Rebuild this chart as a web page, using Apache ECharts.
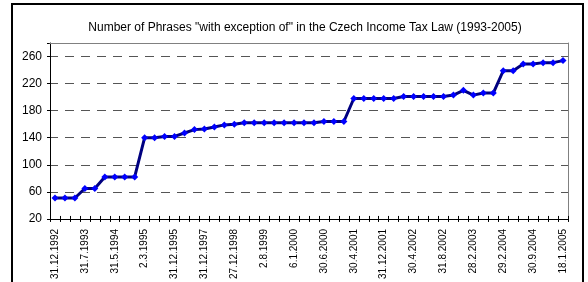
<!DOCTYPE html>
<html>
<head>
<meta charset="utf-8">
<script src="https://cdn.jsdelivr.net/npm/echarts@6/dist/echarts.min.js"></script>
<style>
    html, body { margin: 0; padding: 0; background: #fff; }
    #main { width: 588px; height: 282px; }
</style>
</head>
<body>
<div id="main"></div>
<script>
// dates shown on the axis (every 3rd point), the others are not readable
var shownDates = ['31.12.1992', '31.7.1993', '31.5.1994', '2.3.1995', '31.12.1995', '31.12.1997',
    '27.12.1998', '2.8.1999', '6.1.2000', '30.6.2000', '30.4.2001', '31.12.2001',
    '30.4.2002', '31.8.2002', '28.2.2003', '29.2.2004', '30.9.2004', '18.1.2005'];
// number of phrases at each amendment
var phrases = [51, 51, 51, 65, 65, 82, 82, 82, 82, 140, 140, 142, 142, 147, 152, 153, 156, 159, 160,
    162, 162, 162, 162, 162, 162, 162, 162, 164, 164, 164, 198, 198, 198, 198, 198,
    201, 201, 201, 201, 201, 203, 210, 203, 206, 206, 239, 239, 249, 249, 251, 251, 254];
var yTicks = [20, 60, 100, 140, 180, 220, 260];

var categories = [];
for (var i = 0; i < phrases.length; i++) {
    categories.push(i % 3 == 0 ? shownDates[i / 3] : ' '.repeat(i));
}

var myChart = echarts.init(document.getElementById('main'));
var font = 'Liberation Sans, Arial, sans-serif';

var option = {
    animation: false,
    backgroundColor: '#fff',
    title: {
        text: 'Number of Phrases "with exception of" in the Czech Income Tax Law (1993-2005)',
        left: 300,
        textAlign: 'center',
        top: 17,
        textStyle: { fontFamily: font, fontSize: 12, fontWeight: 'normal', color: '#000' }
    },
    graphic: [{
        type: 'rect',
        shape: { x: 12, y: 4, width: 571, height: 300 },
        style: { fill: null, stroke: '#000', lineWidth: 2 }
    }],
    grid: { left: 50, right: 20, top: 43, bottom: 63 },
    xAxis: [{
        type: 'category',
        data: categories,
        boundaryGap: true,
        axisLine: { lineStyle: { color: '#000', width: 1 } },
        axisTick: { show: true, interval: 0, length: 3, lineStyle: { color: '#000' } },
        axisLabel: {
            interval: 0,
            rotate: 90,
            margin: 10,
            fontFamily: font,
            fontSize: 10,
            color: '#000',
            formatter: function (v) { return v.trim(); }
        },
        splitLine: { show: false }
    }, {
        // inner half of the crossing ticks
        type: 'category',
        data: categories,
        position: 'bottom',
        offset: 0,
        axisLine: { show: false },
        axisTick: { show: true, inside: true, interval: 0, length: 3, lineStyle: { color: '#000' } },
        axisLabel: { show: false }
    }, {
        // top border of the plot area
        type: 'category',
        data: categories,
        position: 'top',
        z: 5,
        axisLine: { lineStyle: { color: '#808080', width: 1 } },
        axisTick: { show: false },
        axisLabel: { show: false }
    }],
    yAxis: [{
        type: 'value',
        min: 20,
        max: 280,
        interval: 40,
        axisLine: { show: true, lineStyle: { color: '#000', width: 1 } },
        axisTick: { show: true, length: 3, lineStyle: { color: '#000' } },
        axisLabel: {
            margin: 8,
            fontFamily: font,
            fontSize: 12,
            color: '#000',
            formatter: function (v) { return yTicks.indexOf(v) >= 0 ? v : ''; }
        },
        splitLine: { show: true, lineStyle: { color: '#555', width: 1, type: [9, 7], dashOffset: 1 } }
    }, {
        // right border of the plot area
        type: 'value',
        min: 20,
        max: 280,
        position: 'right',
        axisLine: { show: true, lineStyle: { color: '#808080', width: 1 } },
        axisTick: { show: false },
        axisLabel: { show: false },
        splitLine: { show: false }
    }],
    series: [{
        name: 'phrases',
        type: 'line',
        data: phrases,
        symbol: 'diamond',
        symbolSize: 7,
        lineStyle: { color: '#000080', width: 3 },
        itemStyle: { color: '#0000FF', borderWidth: 0 },
        z: 10
    }]
};
myChart.setOption(option);
</script>
</body>
</html>
